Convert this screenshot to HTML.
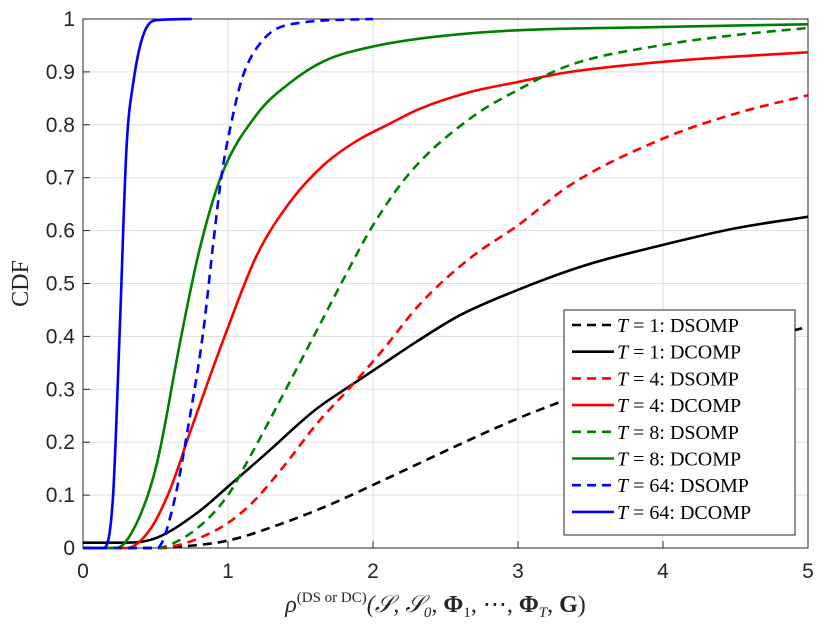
<!DOCTYPE html>
<html><head><meta charset="utf-8"><style>
html,body{margin:0;padding:0;background:#fff;width:834px;height:625px;overflow:hidden}
svg text{font-family:"Liberation Sans",sans-serif;fill:#262626}
.leg{font-family:"Liberation Serif",serif;font-size:20px;fill:#000}
</style></head><body>
<svg id="chart" width="834" height="625" xmlns="http://www.w3.org/2000/svg">
<g id="grid"></g>
<g id="axes"></g>
<g id="series"></g>
<g id="legend"></g>
</svg>
<script>
const xTicks=[0,1,2,3,4,5];
const yTicks=[0,0.1,0.2,0.3,0.4,0.5,0.6,0.7,0.8,0.9,1];
const yTickLabels=["0","0.1","0.2","0.3","0.4","0.5","0.6","0.7","0.8","0.9","1"];
const t1dsX=[0,0.5,0.69,1.0,1.38,1.72,2.07,2.67,3.0,3.3,4,4.5,5];
const t1dsY=[0,0,0.003,0.014,0.047,0.084,0.128,0.205,0.245,0.277,0.345,0.385,0.418];
const t1dcX=[0,0.3,0.506,0.8,1.0,1.26,1.61,1.84,2.07,2.3,2.6,3.0,3.47,4.0,4.51,5];
const t1dcY=[0.01,0.01,0.019,0.069,0.116,0.178,0.263,0.306,0.348,0.39,0.44,0.488,0.535,0.573,0.605,0.626];
const t4dsX=[0,0.5,0.92,1.15,1.38,1.61,1.84,2.07,2.32,2.67,3.0,3.36,4.0,4.51,5];
const t4dsY=[0,0,0.034,0.081,0.153,0.234,0.303,0.375,0.46,0.548,0.61,0.686,0.774,0.822,0.856];
const t4dcX=[0,0.3,0.46,0.6,0.74,0.87,0.99,1.2,1.43,1.66,1.89,2.1,2.32,2.67,3.0,3.36,4.0,4.5,5];
const t4dcY=[0,0,0.034,0.11,0.22,0.32,0.41,0.554,0.655,0.724,0.77,0.8,0.83,0.862,0.881,0.9,0.919,0.929,0.937];
const t8dsX=[0,0.5,0.57,0.8,1.0,1.15,1.38,1.61,1.8,2.0,2.26,2.67,3.0,3.36,4.0,4.51,5];
const t8dsY=[0,0,0.003,0.04,0.1,0.172,0.29,0.41,0.51,0.61,0.711,0.812,0.866,0.913,0.951,0.97,0.983];
const t8dcX=[0,0.23,0.37,0.51,0.67,0.8,0.956,1.2,1.43,1.66,2.0,2.67,4.0,5];
const t8dcY=[0,0,0.047,0.16,0.39,0.56,0.705,0.82,0.88,0.92,0.948,0.973,0.985,0.99];
const t64dsX=[0,0.51,0.62,0.74,0.83,0.9,0.956,1.02,1.1,1.24,1.43,2];
const t64dsY=[0,0,0.078,0.253,0.41,0.58,0.705,0.8,0.89,0.96,0.99,1];
const t64dcX=[0,0.14,0.207,0.253,0.3,0.347,0.416,0.51,0.75];
const t64dcY=[0,0,0.097,0.41,0.756,0.88,0.97,0.998,1];
const seriesNames=["t1-dsomp","t1-dcomp","t4-dsomp","t4-dcomp","t8-dsomp","t8-dcomp","t64-dsomp","t64-dcomp"];
const legendT=["1","1","4","4","8","8","64","64"];
const legendAlg=["DSOMP","DCOMP","DSOMP","DCOMP","DSOMP","DCOMP","DSOMP","DCOMP"];

const X0=83,X1=808,Y0=548,Y1=19;
const sx=v=>X0+(v-0)/(5-0)*(X1-X0);
const sy=v=>Y0-(v-0)/(1-0)*(Y0-Y1);
const NS="http://www.w3.org/2000/svg";
function mk(tag,parent,attrs){const e=document.createElementNS(NS,tag);for(const k in attrs)e.setAttribute(k,attrs[k]);parent.appendChild(e);return e;}
function monoPath(xs,ys){
  const n=xs.length,px=xs.map(sx),py=ys.map(sy);
  const d=[],m=new Array(n);
  for(let i=0;i<n-1;i++)d.push((py[i+1]-py[i])/(px[i+1]-px[i]));
  m[0]=d[0];m[n-1]=d[n-2];
  for(let i=1;i<n-1;i++){m[i]=(d[i-1]*d[i]<=0)?0:(d[i-1]+d[i])/2;}
  for(let i=0;i<n-1;i++){
    if(d[i]===0){m[i]=0;m[i+1]=0;continue;}
    const a=m[i]/d[i],b=m[i+1]/d[i],s=a*a+b*b;
    if(s>9){const t=3/Math.sqrt(s);m[i]=t*a*d[i];m[i+1]=t*b*d[i];}
  }
  let p='M'+px[0].toFixed(1)+','+py[0].toFixed(1);
  for(let i=0;i<n-1;i++){
    const h=(px[i+1]-px[i])/3;
    p+=' C'+(px[i]+h).toFixed(1)+','+(py[i]+m[i]*h).toFixed(1)+' '+(px[i+1]-h).toFixed(1)+','+(py[i+1]-m[i+1]*h).toFixed(1)+' '+px[i+1].toFixed(1)+','+py[i+1].toFixed(1);
  }
  return p;
}
const grid=document.getElementById('grid'),axes=document.getElementById('axes'),ser=document.getElementById('series'),leg=document.getElementById('legend');
mk('rect',grid,{x:X0,y:Y1,width:X1-X0,height:Y0-Y1,fill:'#fff'});
xTicks.forEach((t,i)=>{
  const l=mk('line',grid,{x1:sx(t),x2:sx(t),y1:Y1,y2:Y0,stroke:'#dfdfdf','stroke-width':1});
  
  const tk=mk('line',axes,{x1:sx(t),x2:sx(t),y1:Y0,y2:Y0-7,stroke:'#262626'});
  
  const tx=mk('text',axes,{x:sx(t),y:Y0+30,'text-anchor':'middle','font-size':21});
  tx.textContent=String(t);
  
});
yTicks.forEach((t,i)=>{
  const l=mk('line',grid,{x1:X0,x2:X1,y1:sy(t),y2:sy(t),stroke:'#dfdfdf','stroke-width':1});
  
  const tk=mk('line',axes,{x1:X0,x2:X0+7,y1:sy(t),y2:sy(t),stroke:'#262626'});
  
  const tx=mk('text',axes,{x:X0-8,y:sy(t)+7,'text-anchor':'end','font-size':21});
  tx.textContent=yTickLabels[i];
  
});
const box=mk('rect',axes,{x:X0,y:Y1,width:X1-X0,height:Y0-Y1,fill:'none',stroke:'#262626','stroke-width':1});

const yl=mk('text',axes,{x:0,y:0,transform:`translate(28,${(Y0+Y1)/2}) rotate(-90)`,'text-anchor':'middle','font-size':24,style:'font-family:"Liberation Serif",serif'});
yl.textContent='CDF';
const xl=mk('text',axes,{x:(X0+X1)/2-10,y:612,'text-anchor':'middle','font-size':24,style:'font-family:"Liberation Serif",serif;font-style:italic'});
xl.innerHTML='ρ<tspan font-size="15" dy="-10" font-style="normal">(DS or DC)</tspan><tspan dy="10">(𝒮, 𝒮</tspan><tspan font-size="15" dy="5">0</tspan><tspan dy="-5" font-style="normal">, <tspan font-weight="bold">Φ</tspan></tspan><tspan font-size="15" dy="5" font-style="normal">1</tspan><tspan dy="-5" font-style="normal">, ⋯, <tspan font-weight="bold">Φ</tspan></tspan><tspan font-size="15" dy="5">T</tspan><tspan dy="-5" font-style="normal">, <tspan font-weight="bold">G</tspan>)</tspan>';


const data=[[t1dsX,t1dsY],[t1dcX,t1dcY],[t4dsX,t4dsY],[t4dcX,t4dcY],[t8dsX,t8dsY],[t8dcX,t8dcY],[t64dsX,t64dsY],[t64dcX,t64dcY]];
const colors=['#000','#000','#ff0000','#ff0000','#008000','#008000','#0000ff','#0000ff'];
const clip=mk('clipPath',ser,{id:'pc'});mk('rect',clip,{x:X0,y:Y1-2,width:X1-X0,height:Y0-Y1+4});
data.forEach((d,i)=>{
  const p=mk('path',ser,{d:monoPath(d[0],d[1]),fill:'none',stroke:colors[i],'stroke-width':2.6,'stroke-linejoin':'round','clip-path':'url(#pc)'});
  if(i%2===0)p.setAttribute('stroke-dasharray','9 6');
  
  
});
const lb=mk('rect',leg,{x:564,y:310,width:231,height:225,fill:'#fff',stroke:'#262626','stroke-width':1});

legendT.forEach((t,i)=>{
  const y=325+i*26.7;
  const g=mk('g',leg,{});
  
  
  const l=mk('line',g,{x1:572,x2:614,y1:y,y2:y,stroke:colors[i],'stroke-width':2.6});
  if(i%2===0)l.setAttribute('stroke-dasharray','9 6');
  const tx=mk('text',g,{x:617,y:y+7,class:'leg'});
  tx.innerHTML='<tspan font-style="italic">T</tspan> = '+t+':  '+legendAlg[i];
});
</script>
</body></html>
